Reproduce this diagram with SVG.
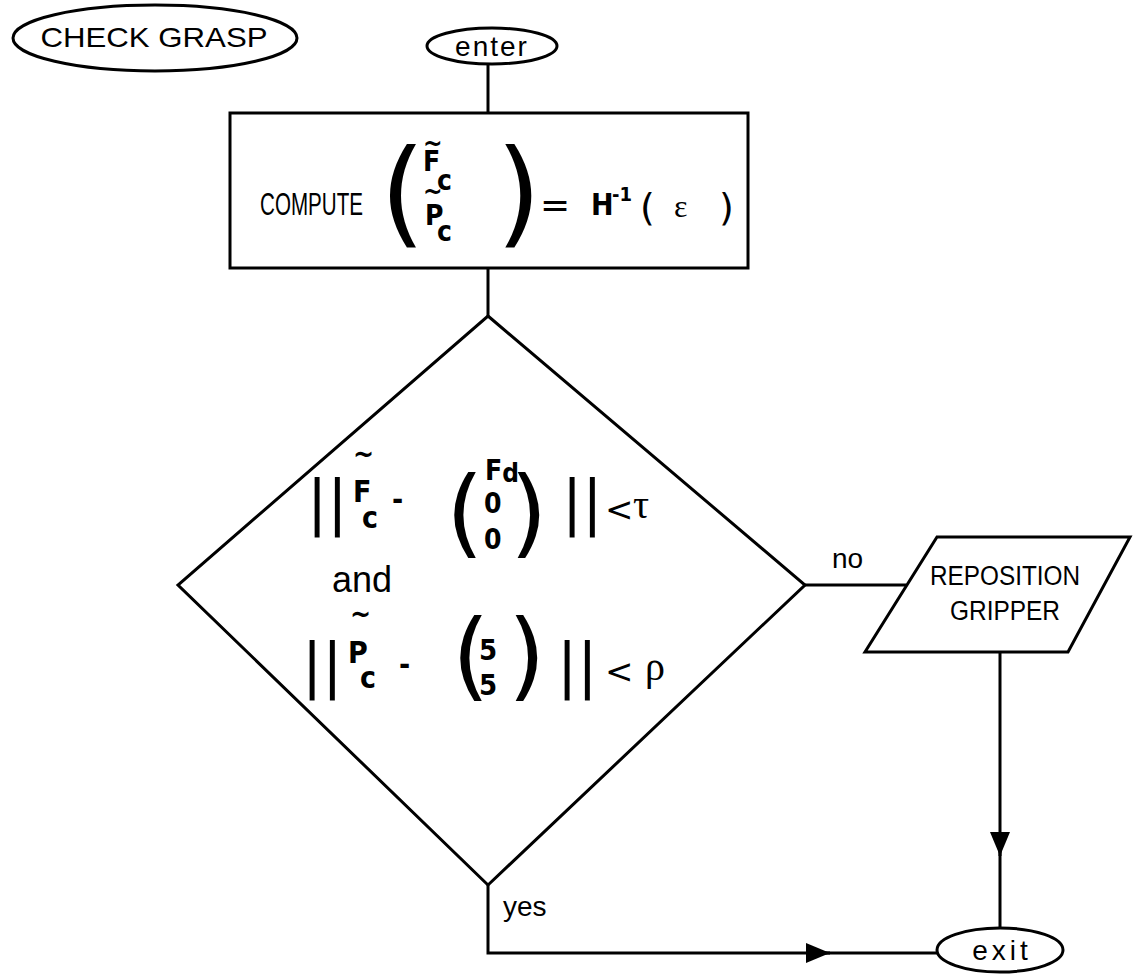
<svg xmlns="http://www.w3.org/2000/svg" width="1135" height="974" viewBox="0 0 1135 974">
  <style>
    .shape { fill: #fff; stroke: #000; stroke-width: 3; }
    .wire { fill: none; stroke: #000; stroke-width: 3; }
    .lbl { font-family: "Liberation Sans", Arial, sans-serif; fill: #000; }
    .m { font-family: "DejaVu Sans Condensed", "DejaVu Sans", sans-serif; font-weight: bold; font-stretch: condensed; fill: #000; }
    .big { font-family: "DejaVu Sans", sans-serif; fill: #000; }
    .gr { font-family: "Liberation Serif", "DejaVu Serif", serif; fill: #000; }
  </style>
  <defs>
    <marker id="head" viewBox="0 0 24 20" refX="24" refY="10" markerWidth="24" markerHeight="20" markerUnits="userSpaceOnUse" orient="auto">
      <path d="M0,0 L24,10 L0,20 Z" fill="#000"/>
    </marker>
  </defs>

  <!-- connectors -->
  <g id="connectors">
    <path class="wire" d="M488,64 V113"/>
    <path class="wire" d="M488,268 V316"/>
    <path class="wire" d="M805,585 H906"/>
    <path class="wire" d="M1000,652 V856" marker-end="url(#head)"/>
    <path class="wire" d="M1000,850 V928"/>
    <path class="wire" d="M488,885 V953 H830" marker-end="url(#head)"/>
    <path class="wire" d="M824,953 H938"/>
    <text class="lbl" x="832" y="568" font-size="28">no</text>
    <text class="lbl" x="503" y="916" font-size="28">yes</text>
  </g>

  <!-- title -->
  <g id="title">
    <ellipse class="shape" cx="155" cy="38" rx="142" ry="33"/>
    <text class="lbl" x="154" y="47" font-size="28" text-anchor="middle" textLength="227" lengthAdjust="spacingAndGlyphs">CHECK GRASP</text>
  </g>

  <!-- entry terminal -->
  <g id="enter">
    <ellipse class="shape" cx="492" cy="46" rx="65" ry="18"/>
    <text class="lbl" x="492" y="56" font-size="28" text-anchor="middle" letter-spacing="2">enter</text>
  </g>

  <!-- compute step -->
  <g id="compute">
    <rect class="shape" x="230" y="113" width="518" height="155"/>
    <text class="lbl" x="260" y="215" font-size="32" textLength="103" lengthAdjust="spacingAndGlyphs">COMPUTE</text>
    <text class="big" x="380" y="232" font-size="116">(</text>
    <text class="m" x="423" y="152" font-size="26">~</text>
    <text class="m" x="423" y="171" font-size="28">F</text>
    <text class="m" x="437" y="190" font-size="28">c</text>
    <text class="m" x="423" y="200" font-size="26">~</text>
    <text class="m" x="425" y="225" font-size="28">P</text>
    <text class="m" x="437" y="241" font-size="28">c</text>
    <text class="big" x="496" y="232" font-size="116">)</text>
    <text class="big" x="540" y="217" font-size="36">=</text>
    <text class="m" x="591" y="215" font-size="30">H</text>
    <text class="m" x="612" y="201" font-size="20">-1</text>
    <text class="big" x="640" y="220" font-size="38">(</text>
    <text class="gr" x="674" y="217" font-size="32">ε</text>
    <text class="big" x="719" y="220" font-size="38">)</text>
  </g>

  <!-- grasp test -->
  <g id="test">
    <path class="shape" d="M488,316 L805,585 L488,885 L178,585 Z"/>
    <!-- first condition -->
    <text class="big" x="307" y="523" font-size="60">||</text>
    <text class="m" x="353" y="463" font-size="28">~</text>
    <text class="m" x="353" y="502" font-size="30">F</text>
    <text class="m" x="362" y="528" font-size="30">c</text>
    <text class="m" x="392" y="510" font-size="30">-</text>
    <text class="big" x="446" y="545" font-size="96">(</text>
    <text class="m" x="485" y="480" font-size="28">F<tspan font-size="26" dy="2">d</tspan></text>
    <text class="m" x="484" y="513" font-size="28">0</text>
    <text class="m" x="484" y="549" font-size="28">0</text>
    <text class="big" x="510" y="545" font-size="96">)</text>
    <text class="big" x="562" y="523" font-size="60">||</text>
    <text class="big" x="605" y="521" font-size="34">&lt;</text>
    <text class="gr" x="633" y="518" font-size="40">τ</text>
    <text class="lbl" x="332" y="592" font-size="36">and</text>
    <!-- second condition -->
    <text class="big" x="302" y="686" font-size="60">||</text>
    <text class="m" x="350" y="623" font-size="28">~</text>
    <text class="m" x="348" y="663" font-size="30">P</text>
    <text class="m" x="360" y="688" font-size="30">c</text>
    <text class="m" x="399" y="675" font-size="30">-</text>
    <text class="big" x="452" y="688" font-size="96">(</text>
    <text class="m" x="479" y="660" font-size="29">5</text>
    <text class="m" x="479" y="695" font-size="29">5</text>
    <text class="big" x="508" y="688" font-size="96">)</text>
    <text class="big" x="557" y="686" font-size="60">||</text>
    <text class="big" x="605" y="683" font-size="34">&lt;</text>
    <text class="gr" x="645" y="680" font-size="40">ρ</text>
  </g>

  <!-- reposition step -->
  <g id="reposition">
    <path class="shape" d="M937,537 L1130,537 L1068,652 L865,652 Z"/>
    <text class="lbl" x="1005" y="585" font-size="27" text-anchor="middle" textLength="150" lengthAdjust="spacingAndGlyphs">REPOSITION</text>
    <text class="lbl" x="1005" y="620" font-size="27" text-anchor="middle" textLength="110" lengthAdjust="spacingAndGlyphs">GRIPPER</text>
  </g>

  <!-- exit terminal -->
  <g id="exit">
    <ellipse class="shape" cx="1000" cy="950" rx="63" ry="22"/>
    <text class="lbl" x="1002" y="960" font-size="28" text-anchor="middle" letter-spacing="4">exit</text>
  </g>
</svg>
